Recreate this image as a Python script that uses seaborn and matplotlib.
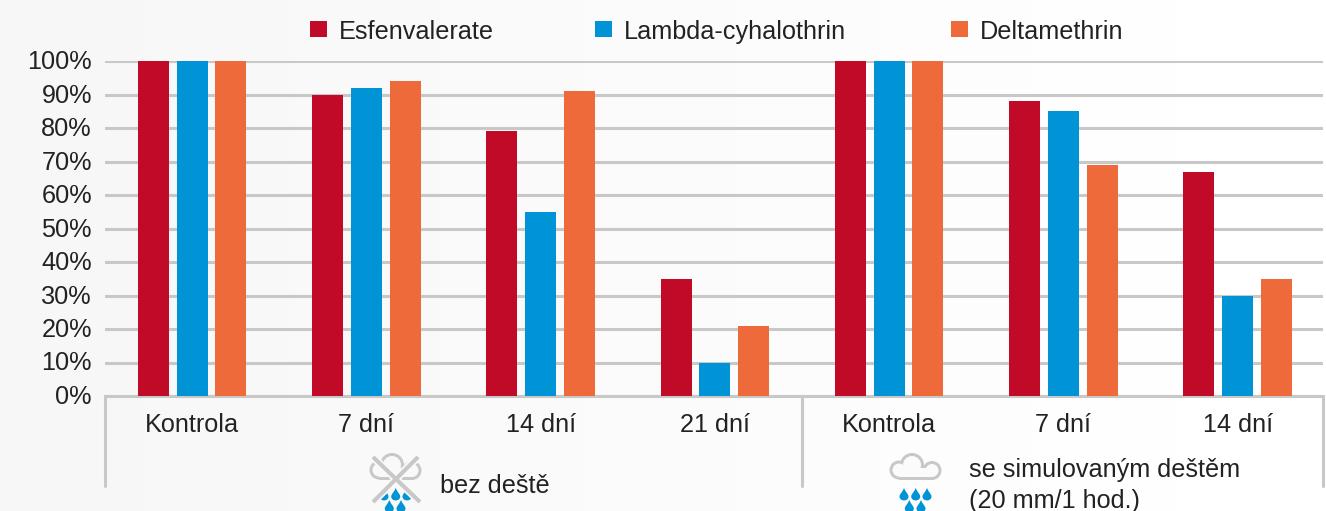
"""
Insecticide efficacy by days after application, with and without rain.
"""
import matplotlib.pyplot as plt
import numpy as np
import pandas as pd
import seaborn as sns
from matplotlib.patches import Circle, PathPatch, Rectangle
from matplotlib.path import Path
from matplotlib.transforms import Affine2D, ScaledTranslation

W, H = 1326, 511
GRID = '#c8c8c8'
TEXT = '#222222'
BLUE = '#0094d6'
FONT_SIZE = 18.2

GROUPS = ['bez deště', 'bez deště', 'bez deště', 'bez deště', 'se simulovaným deštěm', 'se simulovaným deštěm', 'se simulovaným deštěm']
DAYS = ['Kontrola', '7 dní', '14 dní', '21 dní', 'Kontrola', '7 dní', '14 dní']
ESFENVALERATE = [100, 90, 79, 35, 100, 88, 67]
LAMBDA_CYHALOTHRIN = [100, 92, 55, 10, 100, 85, 30]
DELTAMETHRIN = [100, 94, 91, 21, 100, 69, 35]
Y_TICKS = [0, 10, 20, 30, 40, 50, 60, 70, 80, 90, 100]
COLORS = {'Esfenvalerate': '#c10a27', 'Lambda-cyhalothrin': '#0094d6', 'Deltamethrin': '#ee6a3a'}

sns.set_theme(style='white')
plt.rcParams['font.family'] = ['Liberation Sans', 'DejaVu Sans']


def drop(ax, x, y, h):
    # Rain drop with its tip at the top, in pixel coordinates
    w = h * 0.36
    verts = [(x, y), (x + w * 0.4, y + h * 0.35), (x + w, y + h * 0.5), (x + w, y + h * 0.68),
             (x + w, y + h * 1.1), (x - w, y + h * 1.1), (x - w, y + h * 0.68),
             (x - w, y + h * 0.5), (x - w * 0.4, y + h * 0.35), (x, y), (x, y)]
    codes = [Path.MOVETO] + [Path.CURVE4] * 9 + [Path.CLOSEPOLY]
    ax.add_patch(PathPatch(Path(verts, codes), fc=BLUE, ec='none', transform=ax.pix, clip_on=False, zorder=5))


def cloud(ax, x, fill):
    # Cloud outline: grey lobes with smaller lobes in the background colour on top
    lw = 3.0
    lobes = [(x + 9, 470, 9.5), (x + 22, 465, 12), (x + 42, 470.5, 9.5)]
    base = (x + 9, 468), 33, 11.5
    for cx, cy, r in lobes:
        ax.add_patch(Circle((cx, cy), r, fc=GRID, ec='none', transform=ax.pix, clip_on=False, zorder=3))
    ax.add_patch(Rectangle(*base, fc=GRID, ec='none', transform=ax.pix, clip_on=False, zorder=3))
    for cx, cy, r in lobes:
        ax.add_patch(Circle((cx, cy), r - lw, fc=fill, ec='none', transform=ax.pix, clip_on=False, zorder=4))
    ax.add_patch(Rectangle(base[0], base[1], base[2] - lw, fc=fill, ec='none', transform=ax.pix, clip_on=False, zorder=4))
    for dx, y in [(14, 488), (25.7, 488), (37, 488), (19.3, 500), (31, 500)]:
        drop(ax, x + dx, y, 12.5)


fig = plt.figure(figsize=(W / 100, H / 100), dpi=100, facecolor='#fafafa')

# faint background shading, light grey on the left to white on the right
bg = fig.add_axes([0, 0, 1, 1], zorder=-1)
bg.imshow(np.linspace(0.965, 1.0, 256).reshape(1, -1), cmap='gray', vmin=0, vmax=1, aspect='auto')
bg.axis('off')

ax = fig.add_axes([105 / W, 1 - 396 / H, (1323 - 105) / W, 335 / H], facecolor='none')
# pixel coordinates with the origin top left, for the icons
ax.pix = Affine2D().scale(1, -1).translate(0, H)

df = pd.DataFrame({
    'slot': [f'{g} {d}' for g, d in zip(GROUPS, DAYS)],
    'Esfenvalerate': ESFENVALERATE,
    'Lambda-cyhalothrin': LAMBDA_CYHALOTHRIN,
    'Deltamethrin': DELTAMETHRIN,
}).melt(id_vars='slot', var_name='product', value_name='value')

sns.barplot(data=df, x='slot', y='value', hue='product', palette=COLORS, width=0.666, gap=0.2,
            saturation=1, legend=False, linewidth=0, ax=ax, zorder=3)

ax.set_xlim(-0.5, 6.49)
ax.set_ylim(0, 100)
ax.set_yticks(Y_TICKS)
ax.set_yticklabels([f'{t}%' for t in Y_TICKS], fontsize=FONT_SIZE, color=TEXT)
ax.set_xticks(range(len(DAYS)))
ax.set_xticklabels(DAYS, fontsize=FONT_SIZE, color=TEXT)
ax.set_xlabel(None)
ax.set_ylabel(None)
ax.tick_params(axis='both', length=0)
ax.tick_params(axis='y', pad=9.4)
ax.tick_params(axis='x', pad=12)
# y labels sit a little above their gridlines
for label in ax.get_yticklabels():
    label.set_transform(label.get_transform() + ScaledTranslation(0, 1.5 / 100, fig.dpi_scale_trans))
ax.grid(axis='y', color=GRID, lw=2.2, zorder=1)
ax.set_axisbelow(True)
sns.despine(ax=ax, left=True, right=True, top=True, bottom=False)
ax.spines['bottom'].set_color(GRID)
ax.spines['bottom'].set_linewidth(2.2)

# group separators below the axis
for px in [105, 802, 1323]:
    fig.add_artist(plt.Line2D([px / W, px / W], [1 - 396 / H, 1 - 486 / H], color=GRID, lw=2.2))

# legend drawn as separate squares and labels to keep the wide spacing
for px, name in [(310, 'Esfenvalerate'), (595, 'Lambda-cyhalothrin'), (951, 'Deltamethrin')]:
    fig.add_artist(Rectangle((px / W, 1 - 37 / H), 17 / W, 16 / H, fc=COLORS[name], ec='none'))
    fig.text((px + 29.2) / W, 1 - 32 / H, name, fontsize=FONT_SIZE, color=TEXT, va='center', ha='left')

fig.text(440 / W, 1 - 486 / H, 'bez deště', fontsize=FONT_SIZE, color=TEXT, va='center', ha='left')
fig.text(969 / W, 1 - 470 / H, 'se simulovaným deštěm', fontsize=FONT_SIZE, color=TEXT, va='center', ha='left')
fig.text(969 / W, 1 - 501 / H, '(20 mm/1 hod.)', fontsize=FONT_SIZE, color=TEXT, va='center', ha='left')

# icons
cloud(ax, 370, '#f9f9f9')
halo = '#fbfbfb'
for lw, color, z in [(5.5, halo, 6), (3, GRID, 7)]:
    ax.plot([373, 420], [457, 502], color=color, lw=lw, transform=ax.pix, clip_on=False, zorder=z, solid_capstyle='butt')
    ax.plot([418, 373], [457, 502], color=color, lw=lw, transform=ax.pix, clip_on=False, zorder=z, solid_capstyle='butt')
cloud(ax, 890, '#fbfbfb')

fig.savefig('out.png', dpi=100)
